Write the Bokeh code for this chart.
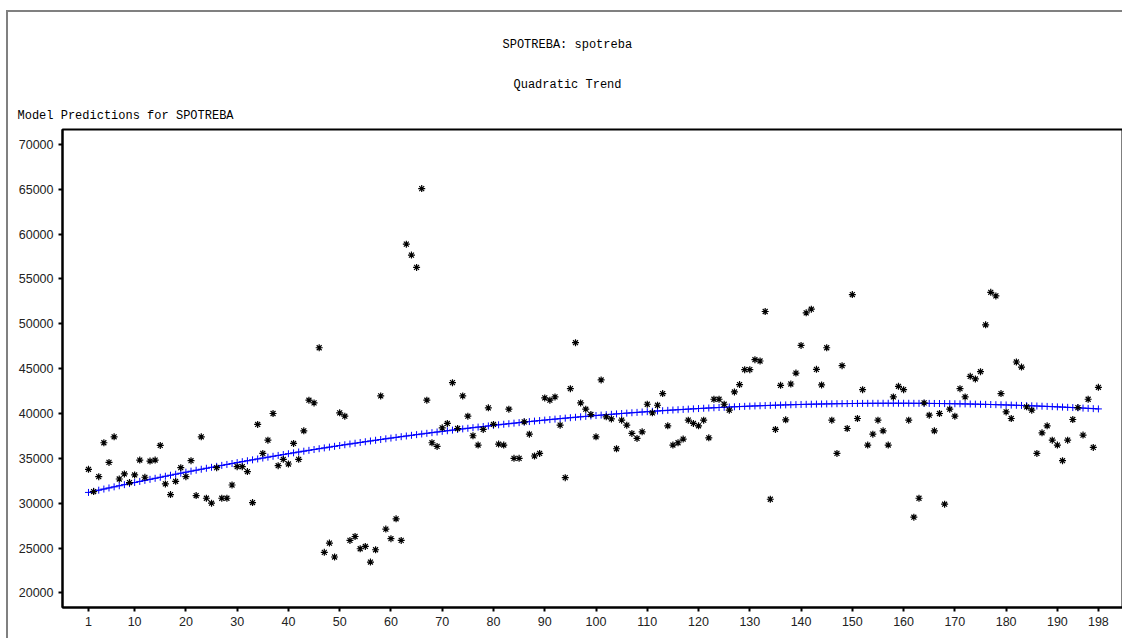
import numpy as np
from bokeh.plotting import figure
from bokeh.models import Range1d, FixedTicker, Title, NumeralTickFormatter
from bokeh.embed import file_html
from bokeh.resources import INLINE

# Observation number (time index)
period = list(range(1, 199))

# SPOTREBA: observed consumption values
spotreba = [
    33780, 31300, 32960, 36740, 34550, 37400, 32700, 33260, 32300, 33150,
    34810, 32890, 34700, 34810, 36440, 32150, 30960, 32440, 33960, 32960,
    34740, 30850, 37400, 30550, 30000, 33960, 30550, 30550, 32030, 34070,
    34070, 33520, 30070, 38780, 35550, 37030, 40000, 34180, 34890, 34370,
    36660, 34890, 38070, 41480, 41180, 47330, 24520, 25550, 24000, 40070,
    39700, 25850, 26290, 24920, 25180, 23440, 24810, 41960, 27110, 26040,
    28260, 25850, 58880, 57660, 56290, 65070, 41480, 36740, 36330, 38400,
    38890, 43440, 38330, 41960, 39700, 37520, 36480, 38220, 40630, 38780,
    36590, 36480, 40480, 35000, 35000, 39070, 37700, 35260, 35550, 41740,
    41480, 41850, 38700, 32850, 42770, 47890, 41180, 40480, 39890, 37400,
    43740, 39630, 39400, 36070, 39260, 38700, 37780, 37220, 37960, 41030,
    40070, 40920, 42220, 38630, 36480, 36740, 37150, 39260, 38890, 38630,
    39260, 37290, 41590, 41590, 41030, 40370, 42400, 43220, 44890, 44890,
    46000, 45850, 51370, 30440, 38220, 43140, 39300, 43290, 44510, 47590,
    51220, 51630, 44920, 43180, 47330, 39260, 35550, 45330, 38330, 53260,
    39440, 42660, 36480, 37700, 39260, 38070, 36480, 41850, 43030, 42660,
    39260, 28440, 30550, 41180, 39810, 38070, 40000, 29890, 40480, 39700,
    42770, 41850, 44140, 43850, 44660, 49890, 53510, 53110, 42220, 40180,
    39440, 45740, 45180, 40740, 40370, 35550, 37850, 38630, 37030, 36480,
    34740, 37030, 39330, 40660, 37590, 41590, 36220, 42920,
]

x_ticks = [1, 10, 20, 30, 40, 50, 60, 70, 80, 90, 100,
           110, 120, 130, 140, 150, 160, 170, 180, 190, 198]
y_ticks = [20000, 25000, 30000, 35000, 40000, 45000,
           50000, 55000, 60000, 65000, 70000]

# Quadratic trend model fitted to the series
coef = np.polyfit(period, spotreba, 2)
trend = np.polyval(coef, period)

p = figure(
    width=1116, height=628,
    output_backend="svg", toolbar_location=None,
    x_range=Range1d(-4.07, 202.7), y_range=Range1d(18372, 71661),
    min_border_left=54, min_border_right=2,
    min_border_top=117, min_border_bottom=33,
)
p.styles = {
    "border-top": "2px solid #808080",
    "border-left": "2px solid #808080",
    "margin-left": "6px",
    "margin-top": "10px",
}
p.background_fill_color = "white"
p.border_fill_color = "white"
p.outline_line_color = "black"
p.outline_line_width = 2
p.xgrid.grid_line_color = None
p.ygrid.grid_line_color = None

for ax in (p.xaxis[0], p.yaxis[0]):
    ax.axis_line_color = "black"
    ax.axis_line_width = 2
    ax.major_tick_in = 0
    ax.major_tick_out = 4
    ax.major_tick_line_width = 2
    ax.major_tick_line_color = "black"
    ax.minor_tick_line_color = None
    ax.major_label_text_font = "Liberation Sans"
    ax.major_label_text_font_size = "12.5px"
    ax.major_label_text_color = "#222222"
    ax.major_label_standoff = 5

p.xaxis.ticker = FixedTicker(ticks=x_ticks)
p.yaxis.ticker = FixedTicker(ticks=y_ticks)
p.yaxis.formatter = NumeralTickFormatter(format="0")

# Model predictions: blue line with plus markers
p.line(period, trend, color="#0000ff", line_width=1)
p.scatter(period, trend, marker="cross", size=7, color="#0000ff", line_width=1)

# Observed values as asterisks
p.scatter(period, spotreba, marker="asterisk", size=7, color="black", line_width=1.2)

# Page headings, stacked above the frame (first added sits closest to it)
title_font = "Liberation Mono"
headings = [
    ("Model Predictions for SPOTREBA", -45, 14),
    ("Quadratic Trend", 451, 16),
    ("SPOTREBA: spotreba", 440, 31),
]
for txt, off, gap in headings:
    p.add_layout(Title(text=txt, align="left", offset=off, standoff=gap,
                       text_font=title_font, text_font_size="12px",
                       text_font_style="normal", text_color="black"), "above")

open("out.html", "w").write(file_html(p, INLINE))
